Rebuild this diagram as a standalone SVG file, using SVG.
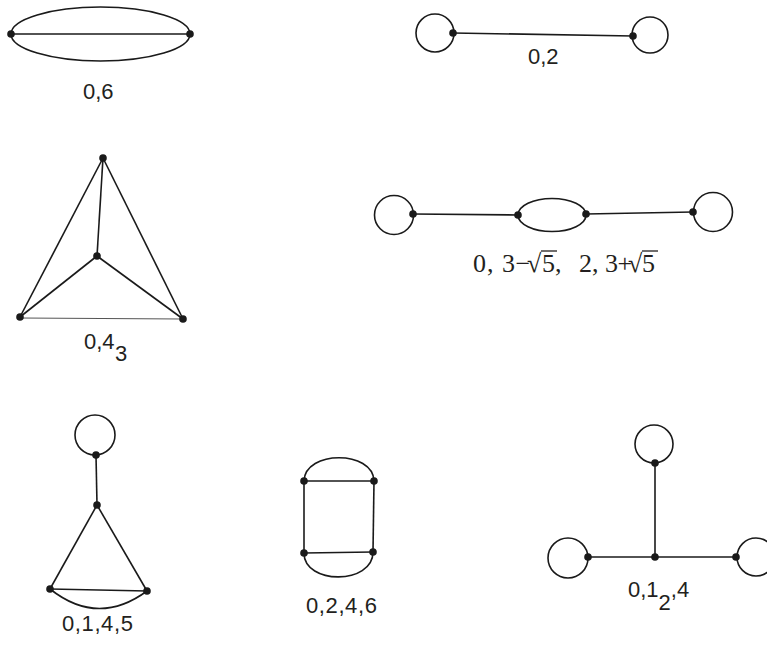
<svg xmlns="http://www.w3.org/2000/svg" width="767" height="646" viewBox="0 0 767 646">
<style>
.e{fill:none;stroke:#1a1a1a;stroke-width:1.6}
.thin{fill:none;stroke:#555;stroke-width:1.1}
.n{fill:#1a1a1a}
.lb{font-family:"Liberation Sans",Arial,sans-serif;font-size:22px;fill:#231f20}
.tm{font-family:"Liberation Serif","Times New Roman",serif;font-size:26px;fill:#231f20}
.ov{stroke:#231f20;stroke-width:1.3}
</style>
<rect width="767" height="646" fill="#fff"/>
<g id="connectors">
  <ellipse class="e" cx="100.5" cy="34" rx="89.5" ry="27"/>
  <line class="e" x1="11" y1="34" x2="190" y2="34"/>
  <circle class="e" cx="435" cy="33" r="19"/>
  <circle class="e" cx="650" cy="35" r="18"/>
  <line class="e" x1="453" y1="33" x2="633" y2="36"/>
  <line class="e" x1="103" y1="158" x2="97" y2="256"/>
  <line class="e" x1="103" y1="158" x2="20" y2="317"/>
  <line class="e" x1="103" y1="158" x2="183" y2="319"/>
  <line class="e" x1="97" y1="256" x2="20" y2="317"/>
  <line class="e" x1="97" y1="256" x2="183" y2="319"/>
  <line class="thin" x1="20" y1="318" x2="183" y2="319"/>
  <circle class="e" cx="394" cy="215" r="19.5"/>
  <ellipse class="e" cx="552" cy="215" rx="34" ry="16.5"/>
  <circle class="e" cx="713" cy="212" r="19.5"/>
  <line class="e" x1="413" y1="214" x2="518" y2="215"/>
  <line class="e" x1="586" y1="214" x2="693" y2="212"/>
  <circle class="e" cx="95" cy="435" r="20"/>
  <line class="e" x1="96" y1="455" x2="97" y2="505"/>
  <line class="e" x1="97" y1="505" x2="50" y2="589"/>
  <line class="e" x1="97" y1="505" x2="147" y2="591"/>
  <line class="e" x1="50" y1="589" x2="147" y2="591"/>
  <path class="e" d="M50,589 Q98,627 147,591"/>
  <path class="e" d="M304,481 C305,450 373,450 374,481"/>
  <line class="e" x1="304" y1="481" x2="374" y2="481"/>
  <line class="e" x1="304" y1="481" x2="304" y2="553"/>
  <line class="e" x1="374" y1="481" x2="373" y2="552"/>
  <line class="e" x1="304" y1="553" x2="373" y2="552"/>
  <path class="e" d="M304,553 C304,585 373,585 373,552"/>
  <circle class="e" cx="654" cy="444" r="19"/>
  <circle class="e" cx="568" cy="558" r="20"/>
  <circle class="e" cx="756" cy="557" r="19"/>
  <line class="e" x1="655" y1="463" x2="655" y2="557"/>
  <line class="e" x1="588" y1="557" x2="736" y2="557"/>
</g>
<g id="g1">
  <circle class="n" cx="11" cy="34" r="3.8"/>
  <circle class="n" cx="190" cy="34" r="3.8"/>
  <text class="lb" x="83" y="99">0,6</text>
</g>
<g id="g2">
  <circle class="n" cx="453" cy="33" r="3.8"/>
  <circle class="n" cx="633" cy="36" r="3.8"/>
  <text class="lb" x="528" y="64">0,2</text>
</g>
<g id="g3">
  <circle class="n" cx="103" cy="158" r="3.8"/>
  <circle class="n" cx="97" cy="256" r="3.8"/>
  <circle class="n" cx="20" cy="317" r="3.8"/>
  <circle class="n" cx="183" cy="319" r="3.8"/>
  <text class="lb" x="84" y="349">0,4<tspan x="115" y="361">3</tspan></text>
</g>
<g id="g4">
  <circle class="n" cx="413" cy="214" r="3.8"/>
  <circle class="n" cx="518" cy="215" r="3.8"/>
  <circle class="n" cx="586" cy="214" r="3.8"/>
  <circle class="n" cx="693" cy="212" r="3.8"/>
  <text class="tm" y="272" x="473 487 493 502 515.5 527 542 555 561 579 592 598 605 617.5 628 642">0, 3−√5, 2, 3+√5</text>
  <line class="ov" x1="541" y1="251" x2="557" y2="251"/>
  <line class="ov" x1="642" y1="251" x2="658" y2="251"/>
</g>
<g id="g5">
  <circle class="n" cx="96" cy="455" r="3.8"/>
  <circle class="n" cx="97" cy="505" r="3.8"/>
  <circle class="n" cx="50" cy="589" r="3.8"/>
  <circle class="n" cx="147" cy="591" r="3.8"/>
  <text class="lb" x="62" y="631" letter-spacing="0.6">0,1,4,5</text>
</g>
<g id="g6">
  <circle class="n" cx="304" cy="481" r="3.8"/>
  <circle class="n" cx="374" cy="481" r="3.8"/>
  <circle class="n" cx="304" cy="553" r="3.8"/>
  <circle class="n" cx="373" cy="552" r="3.8"/>
  <text class="lb" x="306" y="613" letter-spacing="0.6">0,2,4,6</text>
</g>
<g id="g7">
  <circle class="n" cx="655" cy="463" r="3.8"/>
  <circle class="n" cx="655" cy="557" r="3.8"/>
  <circle class="n" cx="588" cy="557" r="3.8"/>
  <circle class="n" cx="736" cy="557" r="3.8"/>
  <text class="lb" x="628" y="597">0,1<tspan y="610">2</tspan><tspan y="597">,4</tspan></text>
</g>
</svg>
